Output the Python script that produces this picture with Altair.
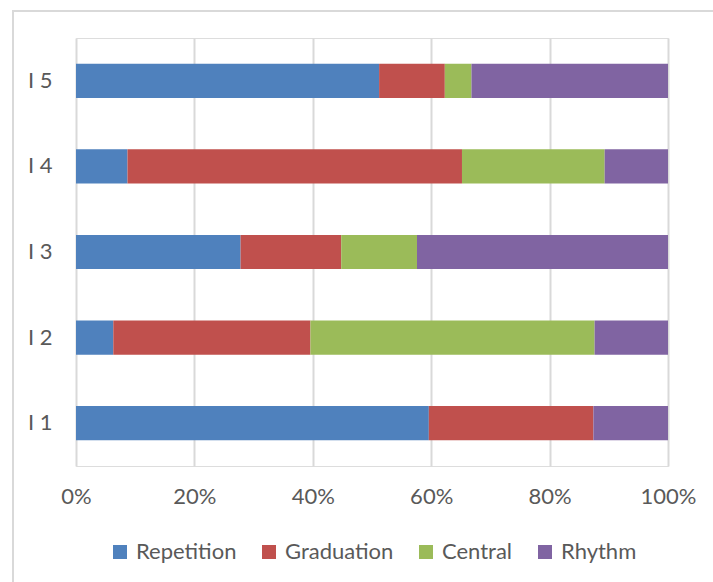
import altair as alt
import pandas as pd

# Share of each pattern type per item (percent of total)
items = ["I 5", "I 4", "I 3", "I 2", "I 1"]
series = ["Repetition", "Graduation", "Central", "Rhythm"]
repetition = [51.2, 8.7, 27.8, 6.3, 59.6]
graduation = [11.1, 56.5, 17.0, 33.3, 27.8]
central = [4.5, 24.1, 12.8, 48.0, 0.0]
rhythm = [33.2, 10.7, 42.4, 12.4, 12.6]
colors = ["#4F81BD", "#C0504D", "#9BBB59", "#8064A2"]

rows = []
for s_idx, (name, vals) in enumerate(zip(series, [repetition, graduation, central, rhythm])):
    for item, v in zip(items, vals):
        rows.append({"item": item, "series": name, "value": v, "order": s_idx})
df = pd.DataFrame(rows)

FONT = "Lato"
TEXT = "#595959"
GRID = "#D9D9D9"

bars = alt.Chart(df).mark_bar().encode(
    y=alt.Y(
        "item:N",
        sort=items,
        scale=alt.Scale(paddingInner=0.6, paddingOuter=0.3),
        axis=alt.Axis(
            title=None, domain=False, ticks=False, grid=False,
            labelPadding=24, labelFontSize=22, labelColor=TEXT, labelFont=FONT,
        ),
    ),
    x=alt.X(
        "value:Q",
        stack="normalize",
        scale=alt.Scale(domain=[0, 1], nice=False),
        axis=alt.Axis(
            title=None, format=".0%", values=[0, 0.2, 0.4, 0.6, 0.8, 1.0],
            domain=False, ticks=False, grid=True, gridColor=GRID, gridWidth=2,
            labelPadding=20, labelFontSize=22, labelColor=TEXT, labelFont=FONT,
            labelFlush=False,
        ),
    ),
    color=alt.Color(
        "series:N",
        sort=series,
        scale=alt.Scale(domain=series, range=colors),
        legend=alt.Legend(
            title=None, orient="none", direction="horizontal",
            legendX=33, legendY=503,
            symbolType="square", symbolSize=196, symbolStrokeWidth=0,
            labelFontSize=22, labelColor=TEXT, labelFont=FONT,
            labelOffset=5, columnPadding=21,
        ),
    ),
    order=alt.Order("order:Q", sort="ascending"),
)

# Frame lines along the top and left edges of the chart
frame_df = pd.DataFrame({"edge": [0]})
top_edge = alt.Chart(frame_df).mark_rule(color=GRID, strokeWidth=2).encode(
    x=alt.value(-64), x2=alt.value(640), y=alt.value(-27)
)
left_edge = alt.Chart(frame_df).mark_rule(color=GRID, strokeWidth=2).encode(
    x=alt.value(-63), y=alt.value(-28), y2=alt.value(550)
)

chart = alt.layer(bars, top_edge, left_edge).properties(
    width=592,
    height=428,
    autosize=alt.AutoSizeParams(type="none"),
    padding={"left": 76, "top": 38, "right": 45, "bottom": 116},
).configure_view(stroke=None).configure(background="white")

chart.save("out.html", embed_options={"renderer": "svg", "actions": False})
